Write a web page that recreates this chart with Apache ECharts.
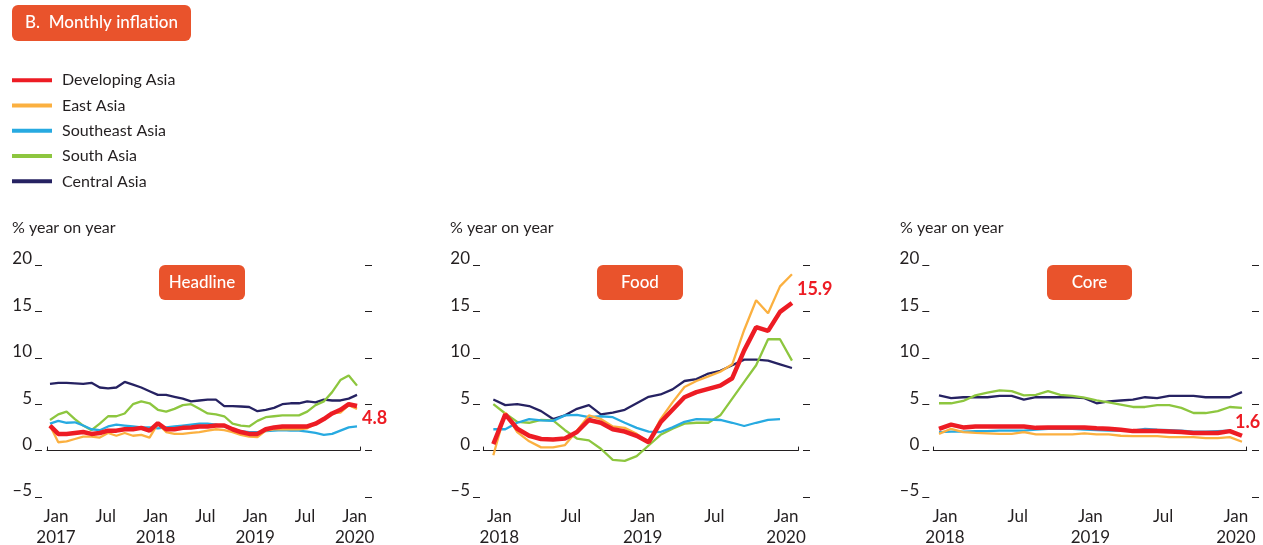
<!DOCTYPE html>
<html>
<head>
<meta charset="utf-8">
<title>Monthly inflation</title>
<script src="https://cdn.jsdelivr.net/npm/echarts@6/dist/echarts.min.js"></script>
<style>
  html, body { margin: 0; padding: 0; background: #fff; }
  #chart { width: 1263px; height: 545px; }
</style>
</head>
<body>
<div id="chart"></div>
<script>
// series names (legend order)
var seriesNames = ['Developing Asia', 'East Asia', 'Southeast Asia', 'South Asia', 'Central Asia'];
var seriesColors = ['#ED1C24', '#FBB040', '#27AAE1', '#8DC63F', '#262262'];

// tick labels for the month axes
var headlineTickPos = [0, 6, 12, 18, 24, 30, 36];
var headlineTickLabels = ['Jan\n2017', 'Jul', 'Jan\n2018', 'Jul', 'Jan\n2019', 'Jul', 'Jan\n2020'];
var shortTickPos = [0, 6, 12, 18, 24];
var shortTickLabels = ['Jan\n2018', 'Jul', 'Jan\n2019', 'Jul', 'Jan\n2020'];

// Headline, Jan 2017 - Feb 2020
var headlineDev = [2.7, 1.8, 1.8, 1.9, 2.0, 1.8, 1.9, 2.15, 2.15, 2.3, 2.3, 2.45, 2.15, 2.95, 2.3, 2.3, 2.45, 2.5, 2.6, 2.6, 2.7, 2.7, 2.3, 2.0, 1.8, 1.8, 2.3, 2.5, 2.6, 2.6, 2.6, 2.6, 2.9, 3.4, 4.0, 4.4, 5.0, 4.8];
var headlineEast = [2.7, 0.9, 1.0, 1.25, 1.5, 1.5, 1.4, 1.9, 1.6, 1.9, 1.6, 1.7, 1.4, 2.9, 2.0, 1.8, 1.8, 1.9, 2.0, 2.15, 2.3, 2.2, 2.0, 1.7, 1.5, 1.45, 2.15, 2.3, 2.3, 2.3, 2.3, 2.4, 2.9, 3.4, 4.0, 4.1, 4.9, 4.5];
var headlineSoutheast = [2.9, 3.2, 3.0, 3.05, 2.7, 2.3, 2.2, 2.6, 2.8, 2.7, 2.6, 2.5, 2.5, 2.4, 2.5, 2.6, 2.7, 2.8, 2.9, 2.9, 2.8, 2.6, 2.3, 2.1, 2.0, 2.0, 2.1, 2.15, 2.2, 2.15, 2.15, 2.05, 1.9, 1.7, 1.8, 2.15, 2.5, 2.6];
var headlineSouth = [3.3, 3.9, 4.2, 3.4, 2.7, 2.2, 2.9, 3.7, 3.7, 4.0, 5.0, 5.3, 5.1, 4.4, 4.2, 4.5, 4.9, 5.0, 4.5, 4.0, 3.9, 3.7, 2.9, 2.7, 2.6, 3.2, 3.6, 3.7, 3.8, 3.8, 3.8, 4.2, 4.9, 5.3, 6.3, 7.6, 8.1, 7.0];
var headlineCentral = [7.2, 7.3, 7.3, 7.25, 7.2, 7.3, 6.8, 6.7, 6.8, 7.4, 7.1, 6.8, 6.4, 6.0, 6.0, 5.8, 5.6, 5.3, 5.4, 5.5, 5.5, 4.8, 4.8, 4.75, 4.7, 4.25, 4.4, 4.6, 5.0, 5.1, 5.1, 5.3, 5.2, 5.5, 5.4, 5.4, 5.6, 6.0];

// Food, Jan 2018 - Feb 2020
var foodDev = [0.7, 3.9, 2.35, 1.6, 1.25, 1.2, 1.3, 2.0, 3.3, 3.0, 2.3, 2.05, 1.6, 0.9, 3.05, 4.4, 5.75, 6.3, 6.65, 7.0, 7.8, 10.8, 13.3, 12.9, 14.95, 15.9];
var foodEast = [-0.5, 4.1, 2.0, 1.0, 0.35, 0.35, 0.6, 2.15, 3.8, 3.4, 2.6, 2.45, 1.8, 0.9, 3.4, 5.2, 6.85, 7.5, 8.0, 8.5, 9.3, 13.0, 16.2, 14.8, 17.7, 19.0];
var foodSoutheast = [2.3, 2.3, 3.0, 3.4, 3.25, 3.2, 3.8, 3.85, 3.6, 3.7, 3.6, 3.0, 2.45, 2.05, 2.0, 2.5, 3.1, 3.4, 3.35, 3.3, 3.0, 2.65, 3.0, 3.3, 3.4, null];
var foodSouth = [5.0, 4.0, 3.1, 3.0, 3.3, 3.25, 2.2, 1.3, 1.1, 0.2, -1.0, -1.1, -0.6, 0.55, 1.7, 2.35, 2.9, 3.0, 3.0, 3.8, 5.6, 7.4, 9.2, 12.0, 12.0, 9.7];
var foodCentral = [5.5, 4.9, 5.0, 4.8, 4.25, 3.4, 3.8, 4.5, 4.9, 3.9, 4.1, 4.4, 5.1, 5.8, 6.05, 6.6, 7.5, 7.7, 8.3, 8.6, 9.2, 9.8, 9.8, 9.7, 9.3, 8.9];

// Core, Jan 2018 - Feb 2020
var coreDev = [2.35, 2.8, 2.5, 2.6, 2.6, 2.6, 2.6, 2.6, 2.45, 2.5, 2.5, 2.5, 2.5, 2.4, 2.35, 2.25, 2.1, 2.1, 2.1, 2.05, 2.0, 1.9, 1.9, 1.9, 2.1, 1.6];
var coreEast = [1.8, 2.35, 2.0, 1.9, 1.85, 1.8, 1.8, 2.0, 1.75, 1.75, 1.75, 1.75, 1.85, 1.75, 1.75, 1.6, 1.55, 1.55, 1.55, 1.45, 1.45, 1.45, 1.35, 1.35, 1.45, 0.95];
var coreSoutheast = [2.0, 2.05, 2.05, 2.1, 2.1, 2.15, 2.15, 2.15, 2.25, 2.35, 2.35, 2.35, 2.25, 2.2, 2.15, 2.15, 2.15, 2.35, 2.25, 2.2, 2.15, 2.05, 2.05, 2.1, 2.15, null];
var coreSouth = [5.1, 5.1, 5.35, 5.95, 6.25, 6.5, 6.4, 5.95, 6.0, 6.4, 6.0, 5.9, 5.7, 5.4, 5.2, 4.95, 4.7, 4.7, 4.9, 4.9, 4.6, 4.05, 4.05, 4.25, 4.7, 4.6];
var coreCentral = [5.95, 5.65, 5.75, 5.75, 5.75, 5.9, 5.9, 5.5, 5.75, 5.75, 5.75, 5.75, 5.65, 5.1, 5.3, 5.4, 5.5, 5.75, 5.65, 5.9, 5.9, 5.9, 5.75, 5.75, 5.75, 6.3];

var font = 'Lato';
var textColor = '#231F20';
var boxColor = '#E9532C';

// panel layout
var panels = [
    { title: 'Headline', left: 47, width: 313, xMin: -0.36, xMax: 37.36, yOffL: 5, yOffR: 5,
      box: [159, 86], unitX: 12, tickPos: headlineTickPos, tickLabels: headlineTickLabels,
      data: [headlineDev, headlineEast, headlineSoutheast, headlineSouth, headlineCentral],
      endOffset: [0, 12] },
    { title: 'Food', left: 483.3, width: 315, xMin: -0.84, xMax: 25.53, yOffL: 3.3, yOffR: 4.7,
      box: [597, 86], unitX: 450, tickPos: shortTickPos, tickLabels: shortTickLabels,
      data: [foodDev, foodEast, foodSoutheast, foodSouth, foodCentral],
      endOffset: [0, -14] },
    { title: 'Core', left: 933.3, width: 313.4, xMin: -0.47, xMax: 25.39, yOffL: 4, yOffR: 5.3,
      box: [1047, 85], unitX: 900, tickPos: shortTickPos, tickLabels: shortTickLabels,
      data: [coreDev, coreEast, coreSoutheast, coreSouth, coreCentral],
      endOffset: [-12, -14] }
];

var grids = [], xAxes = [], yAxes = [], series = [];
var graphics = [
    { type: 'rect', shape: { x: 12, y: 5, width: 179, height: 36, r: 6 }, style: { fill: boxColor } },
    { type: 'text', x: 101.5, y: 23, style: { text: 'B.  Monthly inflation', fill: '#fff', font: '500 17px ' + font, align: 'center', verticalAlign: 'middle' } }
];

panels.forEach(function (p, k) {
    grids.push({ left: p.left, width: p.width, top: 265, height: 232, outerBoundsMode: 'none', containLabel: false });

    // zero line with small end ticks
    xAxes.push({
        type: 'value', gridIndex: k, min: p.xMin, max: p.xMax,
        axisLine: { onZero: true, lineStyle: { color: textColor, width: 1 } },
        axisTick: { show: true, inside: true, length: 4, customValues: [p.xMin, p.xMax], lineStyle: { color: textColor } },
        axisLabel: { show: false },
        splitLine: { show: false }
    });
    // month labels along the bottom
    xAxes.push({
        type: 'value', gridIndex: k, min: p.xMin, max: p.xMax, position: 'bottom',
        axisLine: { show: false, onZero: false },
        axisTick: { show: false },
        splitLine: { show: false },
        axisLabel: {
            customValues: p.tickPos,
            color: textColor, fontFamily: font, fontSize: 17, lineHeight: 21,
            margin: 9, padding: [0, 0, 0, 12],
            formatter: function (v) {
                var i = p.tickPos.indexOf(Math.round(v));
                return i >= 0 ? p.tickLabels[i] : '';
            }
        }
    });

    yAxes.push({
        type: 'value', gridIndex: k, min: -5, max: 20, interval: 5, position: 'left', offset: p.yOffL,
        axisLine: { show: false, onZero: false },
        axisTick: { show: true, length: 7, lineStyle: { color: textColor } },
        splitLine: { show: false },
        axisLabel: {
            color: textColor, fontFamily: font, fontSize: 17, margin: 10,
            verticalAlign: 'bottom', lineHeight: 12,
            formatter: function (v) { return v < 0 ? '\u2013' + Math.abs(v) : String(v); }
        }
    });
    yAxes.push({
        type: 'value', gridIndex: k, min: -5, max: 20, interval: 5, position: 'right', offset: p.yOffR,
        axisLine: { show: false, onZero: false },
        axisTick: { show: true, length: 7, lineStyle: { color: textColor } },
        splitLine: { show: false },
        axisLabel: { show: false }
    });

    // draw order: Central, South, Southeast, East, Developing on top
    for (var s = seriesNames.length - 1; s >= 0; s--) {
        var vals = p.data[s];
        var pts = vals.map(function (v, i) { return [i, v]; });
        var ser = {
            name: seriesNames[s], type: 'line', xAxisIndex: k * 2, yAxisIndex: k * 2,
            data: pts, showSymbol: false, symbol: 'none', connectNulls: false,
            color: seriesColors[s],
            lineStyle: { width: s === 0 ? 4.5 : 2.3, color: seriesColors[s] },
            z: 10 - s
        };
        if (s === 0) {
            ser.endLabel = {
                show: true, distance: 5, offset: p.endOffset,
                color: seriesColors[0], fontFamily: font, fontWeight: 'bold', fontSize: 18,
                formatter: function (prm) { return prm.value[1].toFixed(1); }
            };
        }
        series.push(ser);
    }

    graphics.push({ type: 'text', x: p.unitX, y: 228, style: { text: '% year on year', fill: textColor, font: '16px ' + font, verticalAlign: 'middle' } });
    graphics.push({ type: 'rect', shape: { x: p.box[0], y: 265, width: p.box[1], height: 35, r: 6 }, style: { fill: boxColor } });
    graphics.push({ type: 'text', x: p.box[0] + p.box[1] / 2, y: 283, style: { text: p.title, fill: '#fff', font: '500 17px ' + font, align: 'center', verticalAlign: 'middle' } });
});

var myChart = echarts.init(document.getElementById('chart'));
var option = {
    animation: false,
    textStyle: { fontFamily: font },
    legend: {
        data: seriesNames,
        orient: 'vertical', left: 12, top: 70, padding: 0,
        icon: 'rect', itemWidth: 40, itemHeight: 4, itemGap: 5,
        selectedMode: false,
        textStyle: { color: textColor, fontFamily: font, fontSize: 16, lineHeight: 20.3, padding: [0, 0, 0, 5] }
    },
    grid: grids,
    xAxis: xAxes,
    yAxis: yAxes,
    series: series,
    graphic: graphics
};
myChart.setOption(option);
</script>
</body>
</html>
